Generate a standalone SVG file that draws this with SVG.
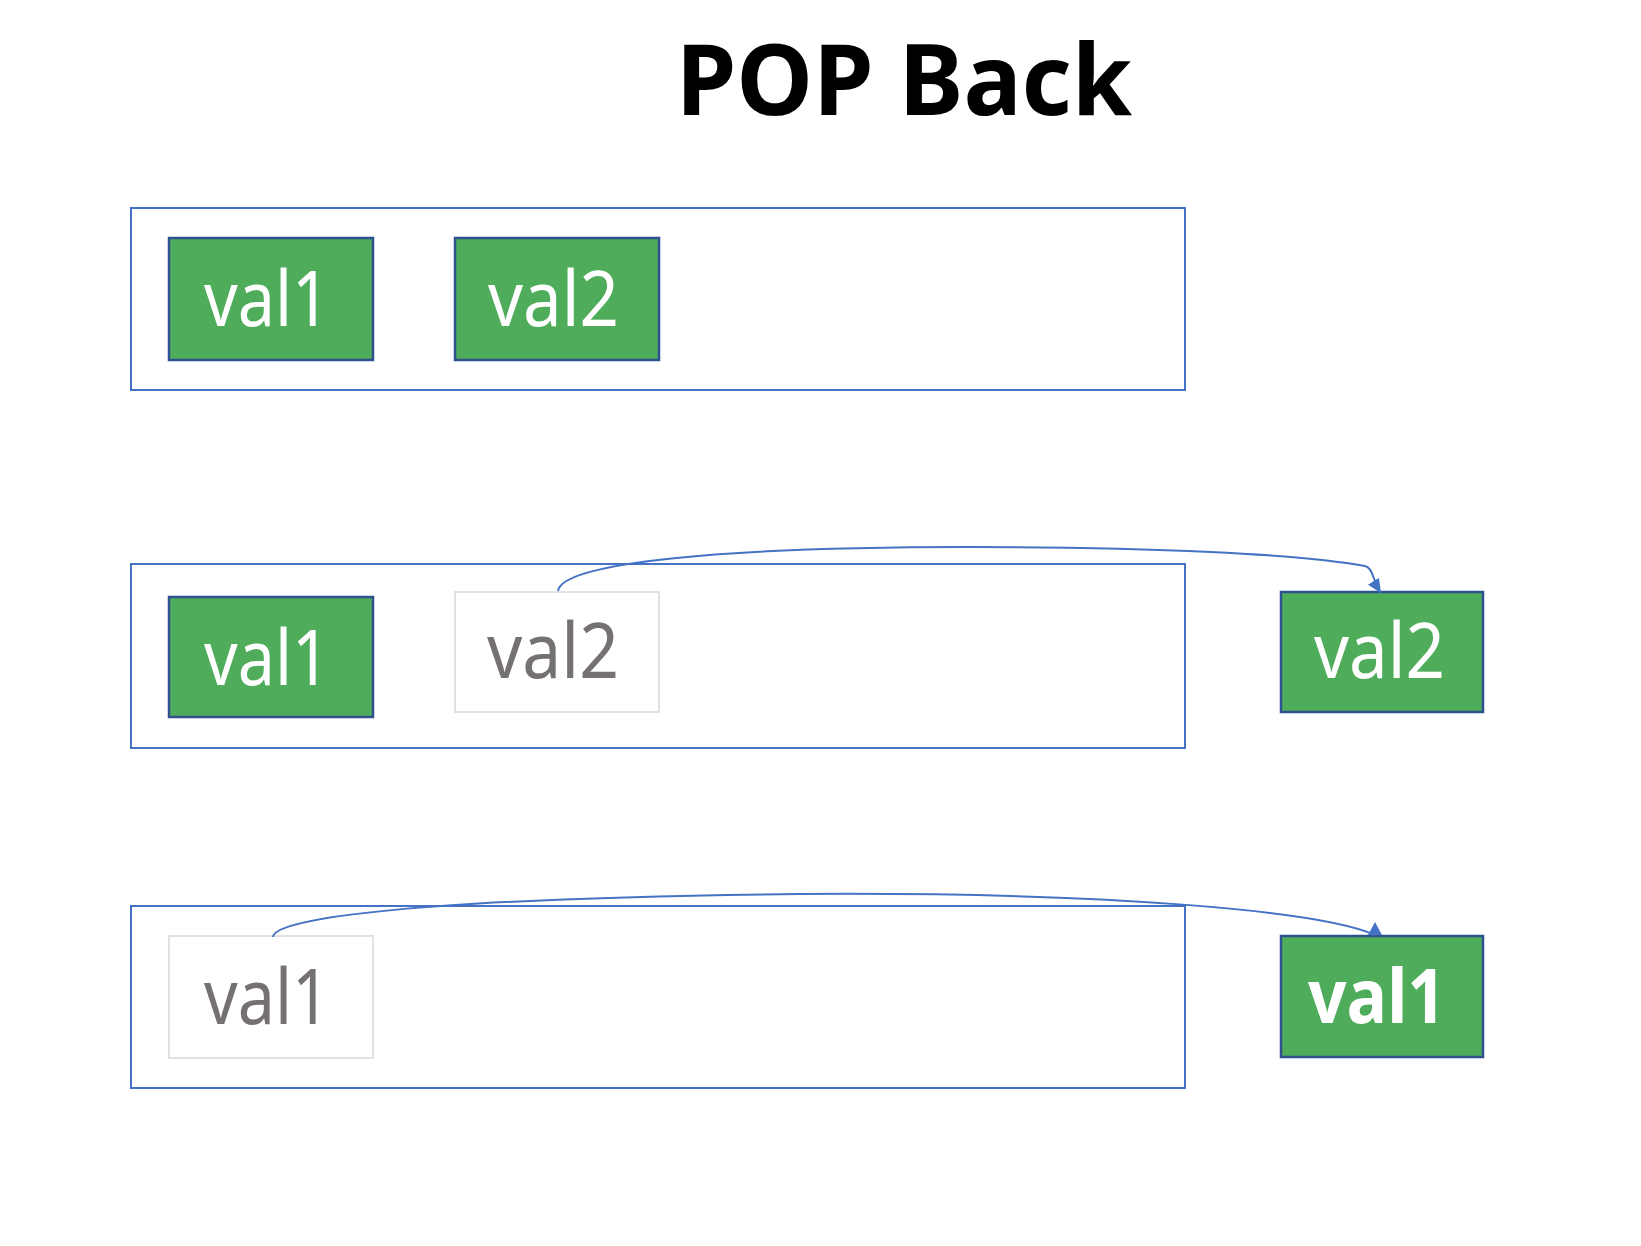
<svg xmlns="http://www.w3.org/2000/svg" width="1641" height="1246" viewBox="0 0 1641 1246">
  <style>
    .title { font-family: "Noto Sans", "Open Sans", sans-serif; font-weight: bold; font-size: 99px; fill: #000; }
    .frame { fill: none; stroke: #4472C4; stroke-width: 2; }
    .full rect { fill: #4EAC5B; stroke: #2F528F; stroke-width: 2.5; }
    .full text { fill: #FFFFFF; }
    .ghost rect { fill: #FFFFFF; stroke: #E2E2E2; stroke-width: 2; }
    .ghost text { fill: #767171; }
    .lbl { font-family: "Noto Sans", "Open Sans", sans-serif; font-size: 76px; }
    .conn { fill: none; stroke: #4472C4; stroke-width: 2; }
  </style>
  <defs>
    <marker id="arrow" markerUnits="userSpaceOnUse" markerWidth="15" markerHeight="13" refX="14" refY="6.5" orient="auto">
      <path d="M0,0 L14,6.5 L0,13 z" fill="#4472C4"/>
    </marker>
    <marker id="arrowUp" markerUnits="userSpaceOnUse" markerWidth="14" markerHeight="15" refX="0" refY="7" orient="270">
      <path d="M0,0 L13,7 L0,14 z" fill="#4472C4"/>
    </marker>
  </defs>
  <rect width="1641" height="1246" fill="#FFFFFF"/>

  <text class="title" x="676" y="115" textLength="456" lengthAdjust="spacingAndGlyphs">POP Back</text>

  <g id="frame1"><rect class="frame" x="131" y="208" width="1054" height="182"/></g>
  <g id="frame2"><rect class="frame" x="131" y="564" width="1054" height="184"/></g>
  <g id="frame3"><rect class="frame" x="131" y="906" width="1054" height="182"/></g>

  <g id="r1-val1" class="full">
    <rect x="169" y="238" width="204" height="122"/>
    <text class="lbl" x="204" y="326" textLength="126" lengthAdjust="spacingAndGlyphs">val1</text>
  </g>
  <g id="r1-val2" class="full">
    <rect x="455" y="238" width="204" height="122"/>
    <text class="lbl" x="488" y="326" textLength="131" lengthAdjust="spacingAndGlyphs">val2</text>
  </g>

  <g id="r2-val1" class="full">
    <rect x="169" y="597" width="204" height="120"/>
    <text class="lbl" x="204" y="685" textLength="126" lengthAdjust="spacingAndGlyphs">val1</text>
  </g>
  <g id="r2-val2-ghost" class="ghost">
    <rect x="455" y="592" width="204" height="120"/>
    <text class="lbl" x="487" y="678" textLength="132" lengthAdjust="spacingAndGlyphs">val2</text>
  </g>
  <g id="r2-val2-out" class="full">
    <rect x="1281" y="592" width="202" height="120"/>
    <text class="lbl" x="1314" y="678" textLength="131" lengthAdjust="spacingAndGlyphs">val2</text>
  </g>

  <g id="r3-val1-ghost" class="ghost">
    <rect x="169" y="936" width="204" height="122"/>
    <text class="lbl" x="204" y="1024" textLength="126" lengthAdjust="spacingAndGlyphs">val1</text>
  </g>
  <g id="r3-val1-out" class="full">
    <rect x="1281" y="936" width="202" height="121"/>
    <text class="lbl" x="1308" y="1023" textLength="138" lengthAdjust="spacingAndGlyphs" font-weight="bold">val1</text>
  </g>

  <g id="connectors">
    <path class="conn" d="M558,591 C562,563 720,547 968,547 C1150,547 1300,554 1365,566 C1373,568 1372,579 1381,593" marker-end="url(#arrow)"/>
    <path class="conn" d="M273,937 C274,918 420,898 800,894 C1100,892 1320,910 1375,935" marker-end="url(#arrowUp)"/>
  </g>
</svg>
